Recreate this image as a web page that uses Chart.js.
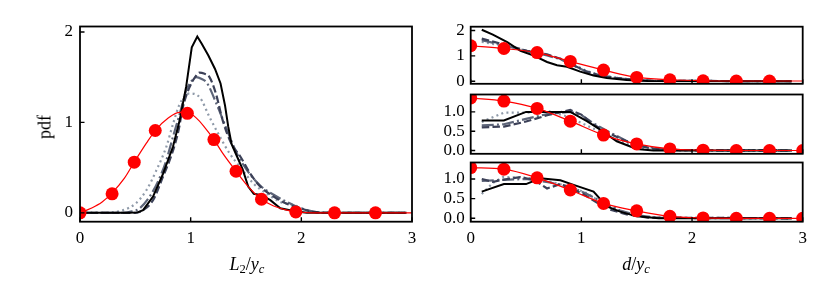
<!DOCTYPE html>
<html>
<head>
<meta charset="utf-8">
<script src="https://cdn.jsdelivr.net/npm/chart.js@4.4.0/dist/chart.umd.min.js"></script>
<style>
  body { margin: 0; background: #fff; width: 830px; height: 297px; position: relative; overflow: hidden; font-family: "Liberation Serif", serif; }
  canvas { position: absolute; }
  .lab { position: absolute; font-size: 18px; white-space: nowrap; transform: translate(-50%, -50%); z-index: 5; }
  .lab sub { font-size: 70%; vertical-align: -0.3em; line-height: 0; }
</style>
</head>
<body>
<canvas id="cL"></canvas>
<canvas id="cR1"></canvas>
<canvas id="cR2"></canvas>
<canvas id="cR3"></canvas>
<div class="lab" style="left:45px;top:127px;transform:translate(-50%,-50%) rotate(-90deg)">pdf</div>
<div class="lab" style="left:247px;top:264px"><i>L</i><sub>2</sub>/<i>y</i><sub><i>c</i></sub></div>
<div class="lab" style="left:636px;top:264px"><i>d</i>/<i>y</i><sub><i>c</i></sub></div>
<script>
// x ticks shared by every panel
const xTicks = [0, 1, 2, 3];
const xTickLabels = ["0", "1", "2", "3"];

// left panel: pdf of L2/yc
const l2RedLineX = [0, 0.1, 0.2, 0.29, 0.4, 0.49, 0.6, 0.68, 0.8, 0.9, 0.97, 1.05, 1.13, 1.21, 1.3, 1.41, 1.52, 1.64, 1.75, 1.85, 1.95, 2.1, 2.4, 3.0];
const l2RedLineY = [0, 0.05, 0.12, 0.22, 0.38, 0.56, 0.77, 0.91, 1.05, 1.11, 1.11, 1.05, 0.94, 0.81, 0.64, 0.46, 0.29, 0.15, 0.075, 0.035, 0.012, 0, 0, 0];
const l2RedDotX = [0, 0.29, 0.49, 0.68, 0.97, 1.21, 1.41, 1.64, 1.95, 2.3, 2.67];
const l2RedDotY = [0, 0.21, 0.56, 0.91, 1.1, 0.81, 0.46, 0.15, 0.01, 0, 0];
const l2BlackX = [0, 0.45, 0.52, 0.57, 0.66, 0.75, 0.84, 0.9, 0.96, 1.01, 1.06, 1.1, 1.16, 1.22, 1.27, 1.31, 1.34, 1.37, 1.42, 1.47, 1.52, 1.57, 1.64, 1.72, 1.81, 1.93, 2.05, 2.5, 2.95];
const l2BlackY = [0, 0, 0.005, 0.03, 0.18, 0.43, 0.73, 1.02, 1.4, 1.83, 1.95, 1.87, 1.74, 1.59, 1.43, 1.19, 0.95, 0.76, 0.62, 0.48, 0.29, 0.21, 0.195, 0.14, 0.05, 0.02, 0, 0, 0];
const l2DashX = [0, 0.5, 0.57, 0.66, 0.75, 0.83, 0.89, 0.93, 0.99, 1.04, 1.08, 1.12, 1.17, 1.23, 1.29, 1.37, 1.45, 1.54, 1.63, 1.75, 1.87, 1.99, 2.11, 2.3, 2.95];
const l2DashY = [0, 0, 0.03, 0.14, 0.4, 0.65, 0.91, 1.17, 1.39, 1.5, 1.55, 1.54, 1.5, 1.31, 1.02, 0.76, 0.62, 0.43, 0.29, 0.18, 0.1, 0.05, 0.01, 0, 0];
const l2DashDotX = [0, 0.4, 0.45, 0.54, 0.63, 0.71, 0.78, 0.84, 0.9, 0.96, 1.01, 1.05, 1.1, 1.145, 1.235, 1.33, 1.42, 1.51, 1.63, 1.75, 1.93, 2.05, 2.2, 2.95];
const l2DashDotY = [0, 0, 0.01, 0.05, 0.18, 0.36, 0.58, 0.84, 1.09, 1.35, 1.46, 1.5, 1.48, 1.44, 1.2, 0.91, 0.65, 0.47, 0.3, 0.2, 0.085, 0.03, 0, 0];
const l2DotX = [0, 0.25, 0.29, 0.39, 0.5, 0.6, 0.69, 0.78, 0.84, 0.9, 0.99, 1.08, 1.17, 1.265, 1.355, 1.445, 1.57, 1.69, 1.81, 1.93, 2.05, 2.2, 2.95];
const l2DotY = [0, 0, 0.005, 0.03, 0.1, 0.25, 0.47, 0.73, 0.98, 1.2, 1.32, 1.28, 1.06, 0.84, 0.65, 0.51, 0.32, 0.21, 0.12, 0.085, 0.03, 0, 0];
const l2YTicks = [0, 1, 2];
const l2YLabels = ["0", "1", "2"];

// right panels: pdf of d/yc
const dRedLineX = [0, 0.3, 0.6, 0.9, 1.2, 1.5, 1.8, 2.1, 2.4, 2.7, 3.0];
const dRedDotX1 = [0, 0.3, 0.6, 0.9, 1.2, 1.5, 1.8, 2.1, 2.4, 2.7];
const dRedDotX = [0, 0.3, 0.6, 0.9, 1.2, 1.5, 1.8, 2.1, 2.4, 2.7, 3.0];

const d1RedY = [1.4, 1.29, 1.13, 0.78, 0.44, 0.15, 0.06, 0.02, 0.01, 0.01, 0.01];
const d1BlackX = [0.1, 0.2, 0.33, 0.45, 0.57, 0.69, 0.78, 0.87, 0.99, 1.11, 1.23, 1.41, 1.6, 2.9];
const d1BlackY = [2.03, 1.84, 1.54, 1.2, 1.01, 0.76, 0.63, 0.57, 0.38, 0.23, 0.13, 0.05, 0.01, 0];
const d1DashX = [0.1, 0.29, 0.51, 0.6, 0.69, 0.81, 0.93, 1.05, 1.17, 1.32, 1.47, 1.65, 2.9];
const d1DashY = [1.68, 1.46, 1.2, 1.14, 1.06, 0.89, 0.63, 0.38, 0.23, 0.13, 0.06, 0.02, 0];
const d1DashDotY = [1.62, 1.43, 1.19, 1.1, 1.02, 0.87, 0.62, 0.37, 0.22, 0.12, 0.05, 0.02, 0];
const d1DotY = [1.55, 1.4, 1.17, 1.08, 1.03, 0.9, 0.66, 0.4, 0.24, 0.13, 0.06, 0.02, 0];
const d1YTicks = [0, 1, 2];
const d1YLabels = ["0", "1", "2"];

const d2RedY = [1.36, 1.28, 1.09, 0.76, 0.4, 0.17, 0.04, 0.01, 0, 0, 0];
const d2BlackX = [0.1, 0.3, 0.5, 0.7, 0.9, 1.05, 1.17, 1.32, 1.5, 1.65, 2.9];
const d2BlackY = [0.78, 0.78, 1.0, 1.0, 1.0, 0.76, 0.54, 0.24, 0.04, 0, 0];
const d2DashX = [0.1, 0.3, 0.5, 0.7, 0.9, 1.0, 1.1, 1.23, 1.35, 1.47, 1.62, 1.8, 2.9];
const d2DashY = [0.6, 0.62, 0.75, 0.92, 1.05, 0.93, 0.69, 0.48, 0.31, 0.16, 0.06, 0.01, 0];
const d2DashDotX = [0.1, 0.3, 0.5, 0.7, 0.9, 1.0, 1.1, 1.25, 1.4, 1.55, 1.7, 1.9, 2.9];
const d2DashDotY = [0.65, 0.68, 0.82, 0.95, 1.0, 0.92, 0.72, 0.48, 0.26, 0.12, 0.04, 0.01, 0];
const d2DotX = [0.1, 0.3, 0.5, 0.7, 0.85, 0.95, 1.1, 1.25, 1.4, 1.55, 1.7, 1.9, 2.9];
const d2DotY = [0.74, 0.98, 0.98, 1.02, 0.9, 0.78, 0.58, 0.38, 0.18, 0.07, 0.02, 0, 0];

const d3RedY = [1.29, 1.25, 1.03, 0.72, 0.38, 0.19, 0.05, 0.01, 0, 0, 0];
const d3BlackX = [0.1, 0.3, 0.5, 0.63, 0.81, 0.93, 1.11, 1.23, 1.35, 1.5, 1.7, 2.9];
const d3BlackY = [0.68, 0.87, 0.87, 1.02, 0.97, 0.85, 0.68, 0.3, 0.17, 0.05, 0, 0];
const d3DashX = [0.1, 0.2, 0.33, 0.45, 0.57, 0.69, 0.81, 0.9, 1.02, 1.14, 1.26, 1.41, 1.6, 2.9];
const d3DashY = [1.0, 0.93, 1.0, 1.05, 0.98, 0.76, 0.87, 0.77, 0.61, 0.4, 0.22, 0.1, 0.02, 0];
const d3DashDotX = [0.1, 0.3, 0.5, 0.7, 0.9, 1.05, 1.2, 1.35, 1.5, 1.7, 2.9];
const d3DashDotY = [0.95, 0.98, 1.0, 0.92, 0.8, 0.62, 0.4, 0.2, 0.08, 0.01, 0];
const d3DotX = [0.1, 0.2, 0.29, 0.51, 0.69, 0.9, 1.05, 1.17, 1.32, 1.47, 1.65, 2.9];
const d3DotY = [0.62, 0.9, 1.05, 1.03, 0.95, 0.8, 0.64, 0.42, 0.22, 0.09, 0.02, 0];
const dSmallYTicks = [0, 0.5, 1.0];
const dSmallYLabels = ["0.0", "0.5", "1.0"];

Chart.defaults.font.family = "'Liberation Serif', serif";
Chart.defaults.font.size = 17;
Chart.defaults.color = "#000";

const RED = "#ff0000";
const DARK = "#3c4158";
const MID = "#5d6579";
const LIGHT = "#8f9aa9";

const pts = (xs, ys) => xs.map((x, i) => ({ x: x, y: ys[i] }));

function line(xs, ys, color, width, dash, smooth, order) {
  return {
    data: pts(xs, ys),
    borderColor: color,
    borderWidth: width,
    borderDash: dash,
    pointRadius: 0,
    fill: false,
    cubicInterpolationMode: smooth ? "monotone" : "default",
    tension: 0,
    clip: 0,
    order: order,
  };
}
function dots(xs, ys) {
  return {
    data: pts(xs, ys),
    showLine: false,
    pointRadius: 6.5,
    pointBackgroundColor: RED,
    pointBorderWidth: 0,
    clip: 0,
    order: 0,
  };
}

// frame box and inward ticks, like the original axes
const framePlugin = {
  id: "frame",
  afterDraw(chart) {
    const ctx = chart.ctx;
    const a = chart.chartArea;
    ctx.save();
    ctx.strokeStyle = "#000";
    ctx.lineWidth = 1.8;
    ctx.strokeRect(a.left, a.top, a.right - a.left, a.bottom - a.top);
    ctx.lineWidth = 1.4;
    ctx.beginPath();
    chart.scales.x.ticks.forEach((t) => {
      const px = chart.scales.x.getPixelForValue(t.value);
      ctx.moveTo(px, a.bottom);
      ctx.lineTo(px, a.bottom - 4.5);
    });
    chart.scales.y.ticks.forEach((t) => {
      const py = chart.scales.y.getPixelForValue(t.value);
      ctx.moveTo(a.left, py);
      ctx.lineTo(a.left + 4.5, py);
    });
    ctx.stroke();
    ctx.restore();
  },
};

function panel(id, box, area, yMin, yMax, yTicks, yLabels, showX, yPad, datasets) {
  const cv = document.getElementById(id);
  cv.style.left = box[0] + "px";
  cv.style.top = box[1] + "px";
  cv.width = box[2];
  cv.height = box[3];
  const yW = area[0] - box[0];
  const padTop = area[1] - box[1];
  const padRight = box[0] + box[2] - area[2];
  const xH = box[1] + box[3] - area[3];
  new Chart(cv, {
    type: "line",
    data: { datasets: datasets },
    options: {
      responsive: false,
      animation: false,
      devicePixelRatio: 1,
      layout: { padding: { top: padTop, right: padRight, left: 0, bottom: 0 } },
      plugins: { legend: { display: false }, tooltip: { enabled: false } },
      scales: {
        x: {
          type: "linear",
          min: 0,
          max: 3,
          grid: { display: false, drawTicks: false },
          border: { display: false },
          afterBuildTicks: (s) => { s.ticks = xTicks.map((v) => ({ value: v })); },
          ticks: { display: showX, padding: 7, maxRotation: 0, callback: (v, i) => xTickLabels[i] },
          afterFit: (s) => { s.height = xH; },
        },
        y: {
          type: "linear",
          min: yMin,
          max: yMax,
          grid: { display: false, drawTicks: false },
          border: { display: false },
          afterBuildTicks: (s) => { s.ticks = yTicks.map((v) => ({ value: v })); },
          ticks: { padding: yPad, callback: (v, i) => yLabels[i] },
          afterFit: (s) => { s.width = yW; },
        },
      },
    },
    plugins: [framePlugin],
  });
}

panel("cL", [0, 0, 425, 297], [80, 26.5, 412, 221.7], -0.098, 2.06, l2YTicks, l2YLabels, true, 7, [
  dots(l2RedDotX, l2RedDotY),
  line(l2RedLineX, l2RedLineY, RED, 1.2, [], true, 1),
  line(l2BlackX, l2BlackY, "#000", 2, [], false, 2),
  line(l2DashX, l2DashY, DARK, 2.2, [7.5, 3.2], true, 3),
  line(l2DashDotX, l2DashDotY, MID, 2.2, [12, 3.2, 2, 3.2], true, 4),
  line(l2DotX, l2DotY, LIGHT, 2.2, [2, 3.3], true, 5),
]);

panel("cR1", [425, 0, 405, 100], [470.7, 26.7, 802.7, 86], -0.1, 2.15, d1YTicks, d1YLabels, false, 6, [
  dots(dRedDotX1, d1RedY.slice(0, dRedDotX1.length)),
  line(dRedLineX, d1RedY, RED, 1.2, [], true, 1),
  line(d1BlackX, d1BlackY, "#000", 2, [], false, 2),
  line(d1DashX, d1DashY, DARK, 2.2, [7.5, 3.2], false, 3),
  line(d1DashX, d1DashDotY, MID, 2.2, [12, 3.2, 2, 3.2], false, 4),
  line(d1DashX, d1DotY, LIGHT, 2.2, [2, 3.3], false, 5),
]);

panel("cR2", [425, 70, 405, 100], [470.7, 94.5, 802.7, 154], -0.085, 1.45, dSmallYTicks, dSmallYLabels, false, 6, [
  dots(dRedDotX, d2RedY),
  line(dRedLineX, d2RedY, RED, 1.2, [], true, 1),
  line(d2BlackX, d2BlackY, "#000", 2, [], false, 2),
  line(d2DashX, d2DashY, DARK, 2.2, [7.5, 3.2], false, 3),
  line(d2DashDotX, d2DashDotY, MID, 2.2, [12, 3.2, 2, 3.2], false, 4),
  line(d2DotX, d2DotY, LIGHT, 2.2, [2, 3.3], false, 5),
]);

panel("cR3", [425, 140, 405, 157], [470.7, 162.5, 802.7, 221.7], -0.086, 1.42, dSmallYTicks, dSmallYLabels, true, 6, [
  dots(dRedDotX, d3RedY),
  line(dRedLineX, d3RedY, RED, 1.2, [], true, 1),
  line(d3BlackX, d3BlackY, "#000", 2, [], false, 2),
  line(d3DashX, d3DashY, DARK, 2.2, [7.5, 3.2], false, 3),
  line(d3DashDotX, d3DashDotY, MID, 2.2, [12, 3.2, 2, 3.2], false, 4),
  line(d3DotX, d3DotY, LIGHT, 2.2, [2, 3.3], false, 5),
]);
</script>
</body>
</html>
